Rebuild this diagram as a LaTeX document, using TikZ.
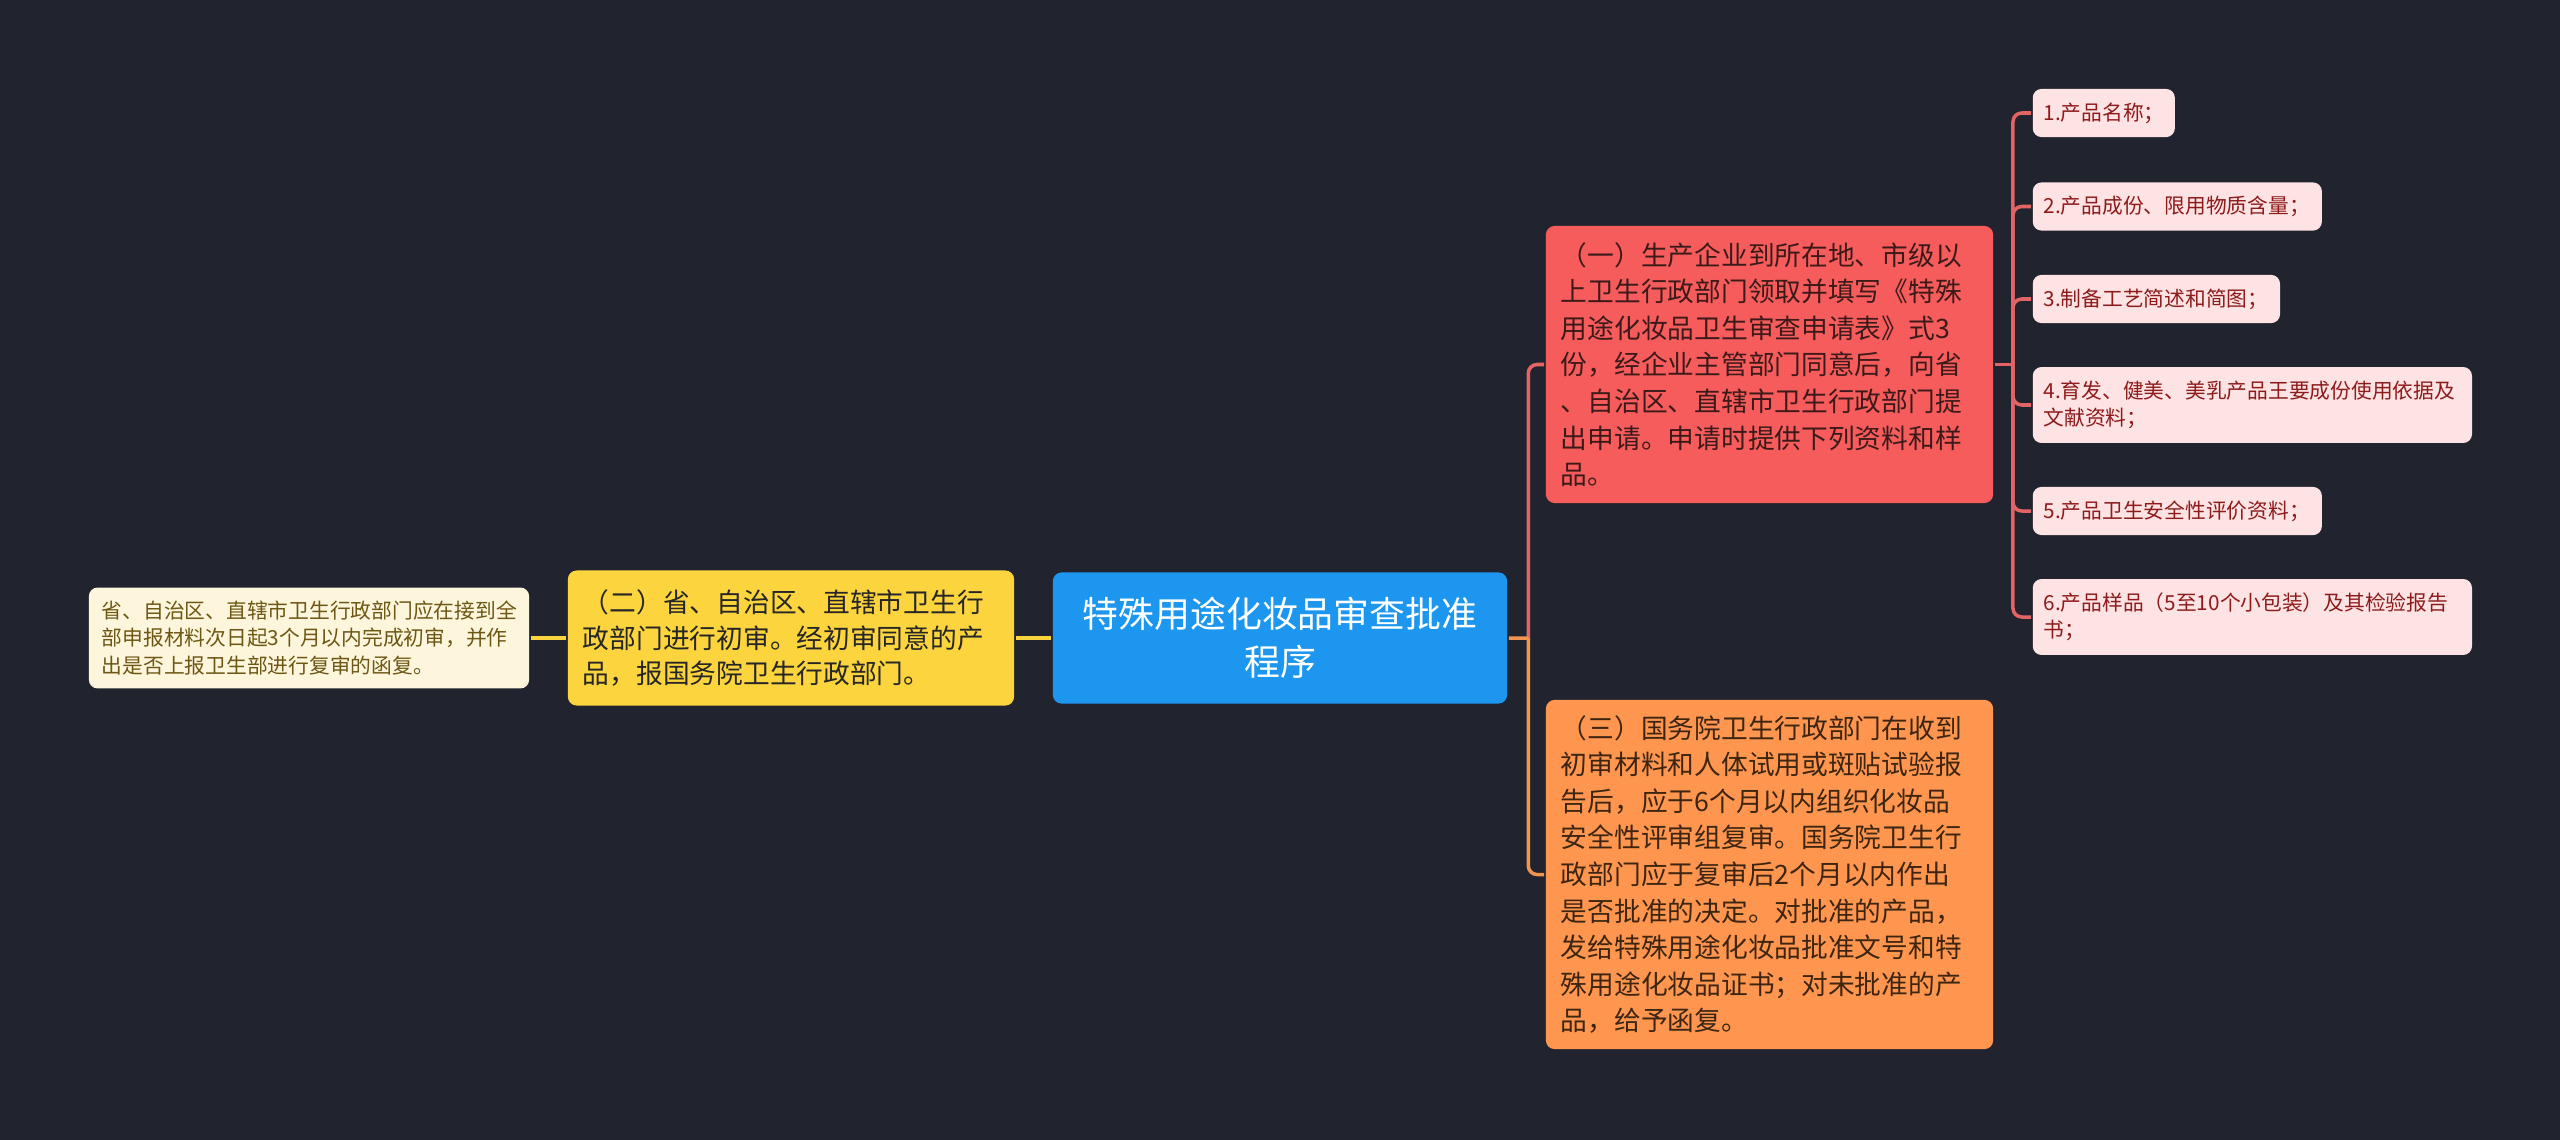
\documentclass[tikz,border=0pt]{standalone}
\usepackage{fontspec}
\setmainfont{Noto Sans CJK SC}
\usetikzlibrary{calc}
\definecolor{bgc}{HTML}{21242E}
\definecolor{rootc}{HTML}{1C96EE}
\definecolor{yelc}{HTML}{FCD43E}
\definecolor{palec}{HTML}{FDF6DC}
\definecolor{palet}{HTML}{6E5714}
\definecolor{redc}{HTML}{F65C5C}
\definecolor{redt}{HTML}{3D1A1A}
\definecolor{orc}{HTML}{FF964F}
\definecolor{ort}{HTML}{3D2511}
\definecolor{leafc}{HTML}{FDE3E3}
\definecolor{leaft}{HTML}{8E1B1B}
\definecolor{redl}{HTML}{E26464}
\definecolor{orl}{HTML}{F0944F}
\newcommand{\fs}[2]{\fontsize{#1}{#2}\selectfont}

\begin{document}
\begin{tikzpicture}[x=0.01cm,y=-0.01cm,line width=1pt,
  box/.style={rectangle,rounded corners=2.5pt,inner ysep=0pt,align=left},
  rootbox/.style={box,fill=rootc,text=white,align=center,inner xsep=4pt,text width=121.2pt,minimum height=37.3pt,font=\fs{10.2}{13.7}},
  ybox/.style={box,fill=yelc,text=black!85,inner xsep=4.3pt,text width=118.3pt,minimum height=38.4pt,font=\fs{7.6}{10}},
  pbox/.style={box,fill=palec,text=palet,inner xsep=3.7pt,text width=117.8pt,minimum height=28.7pt,font=\fs{5.9}{7.9}},
  rbox/.style={box,fill=redc,text=redt,inner xsep=4.3pt,text width=118.6pt,minimum height=78.8pt,font=\fs{7.6}{10.4}},
  obox/.style={box,fill=orc,text=ort,inner xsep=4.3pt,text width=118.6pt,minimum height=99.3pt,font=\fs{7.6}{10.4}},
  leaf/.style={box,fill=leafc,text=leaft,anchor=west,inner xsep=3.1pt,minimum height=13.7pt,font=\fs{5.9}{7.7}},
  leaftwo/.style={leaf,text width=118.7pt,minimum height=21.6pt},
  yline/.style={draw=yelc},
  redline/.style={draw=redl,rounded corners=2.5pt},
  orline/.style={draw=orl,rounded corners=2.5pt}]
  \useasboundingbox (0,0) rectangle (2560,1139);
  \fill[bgc] (-10,-10) rectangle (2570,1149);

  % centre and left side
  \node[rootbox] (root) at (1280,638) {特殊用途化妆品审查批准\\程序};
  \node[ybox] (two) at (791,638) {（二）省、自治区、直辖市卫生行\\政部门进行初审。经初审同意的产\\品，报国务院卫生行政部门。};
  \node[pbox] (twoa) at (309,638) {省、自治区、直辖市卫生行政部门应在接到全\\部申报材料次日起3个月以内完成初审，并作\\出是否上报卫生部进行复审的函复。};

  % right side
  \node[rbox] (one) at (1769.5,364.5) {（一）生产企业到所在地、市级以\\上卫生行政部门领取并填写《特殊\\用途化妆品卫生审查申请表》式3\\份，经企业主管部门同意后，向省\\、自治区、直辖市卫生行政部门提\\出申请。申请时提供下列资料和样\\品。};
  \node[obox] (three) at (1769.5,874.5) {（三）国务院卫生行政部门在收到\\初审材料和人体试用或斑贴试验报\\告后，应于6个月以内组织化妆品\\安全性评审组复审。国务院卫生行\\政部门应于复审后2个月以内作出\\是否批准的决定。对批准的产品，\\发给特殊用途化妆品批准文号和特\\殊用途化妆品证书；对未批准的产\\品，给予函复。};

  % leaves of (one)
  \node[leaf,text width=34.2pt] (l1) at (2031,113) {1.产品名称；};
  \node[leaf,text width=76pt] (l2) at (2031,206.5) {2.产品成份、限用物质含量；};
  \node[leaf,text width=64.1pt] (l3) at (2031,299) {3.制备工艺简述和简图；};
  \node[leaftwo] (l4) at (2031,405) {4.育发、健美、美乳产品王要成份使用依据及\\文献资料；};
  \node[leaf,text width=76pt] (l5) at (2031,511) {5.产品卫生安全性评价资料；};
  \node[leaftwo] (l6) at (2031,617) {6.产品样品（5至10个小包装）及其检验报告\\书；};

  % connectors
  \draw[yline] (root.west) -- (two.east);
  \draw[yline] (two.west) -- (twoa.east);
  \coordinate (rj) at ($(root.east)!0.55!(one.west |- root.east)$);
  \draw[redline] (rj) |- (one.west);
  \draw[orline] (rj) |- (three.west);
  \draw[orline] (root.east) -- (rj);
  \coordinate (lj) at ($(one.east)!0.5!(l1.west |- one.east)$);
  \draw[redline] (one.east) -- (lj);
  \foreach \n in {l1,l2,l3,l4,l5,l6}
    \draw[redline] (lj) |- (\n.west);
\end{tikzpicture}
\end{document}
